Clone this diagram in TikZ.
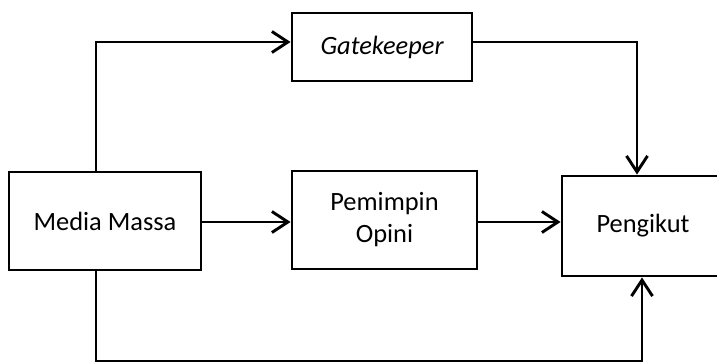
\documentclass[tikz,border=0pt]{standalone}
\usepackage{fontspec}
\setmainfont{Carlito}
\usetikzlibrary{arrows.meta}
\begin{document}
\begin{tikzpicture}[x=1pt,y=-1pt,
  box/.style={draw, line width=2.9pt, align=center, inner sep=0pt,
    font=\fontsize{26.4}{32}\selectfont},
  conn/.style={line width=2.9pt},
  arr/.style={conn, -{Straight Barb[length=16pt,width=21pt,line width=2.9pt]}}]
\useasboundingbox (0,0) rectangle (717,363);
\clip (0,0) rectangle (717,363);
\node[box, minimum width=180pt, minimum height=100pt] (pg) at (652,226) {Pengikut\hspace*{18pt}};
\node[box, minimum width=192pt, minimum height=98pt] (mm) at (105,221) {Media Massa};
\node[box, minimum width=180pt, minimum height=68pt] (gk) at (382,47) {\itshape Gatekeeper};
\node[box, minimum width=185pt, minimum height=98pt] (pem) at (384.5,220) {Pemimpin\\Opini};
\coordinate (c1) at (96,42);
\coordinate (c2) at (637,42);
\coordinate (c3) at (96,361);
\coordinate (c4) at (642,361);
\draw[arr] (mm.north -| c1) -- (c1) -- ([yshift=5pt]gk.west);
\draw[arr] ([yshift=5pt]gk.east) -- (c2) -- (pg.north -| c2);
\draw[arr] ([yshift=-1pt]mm.east) -- ([yshift=-1pt]mm.east -| pem.west);
\draw[arr] ([yshift=-2pt]pem.east) -- ([yshift=-2pt]pem.east -| pg.west);
\draw[arr] (mm.south -| c3) -- (c3) -- (c4) -- (pg.south -| c4);
\end{tikzpicture}
\end{document}
